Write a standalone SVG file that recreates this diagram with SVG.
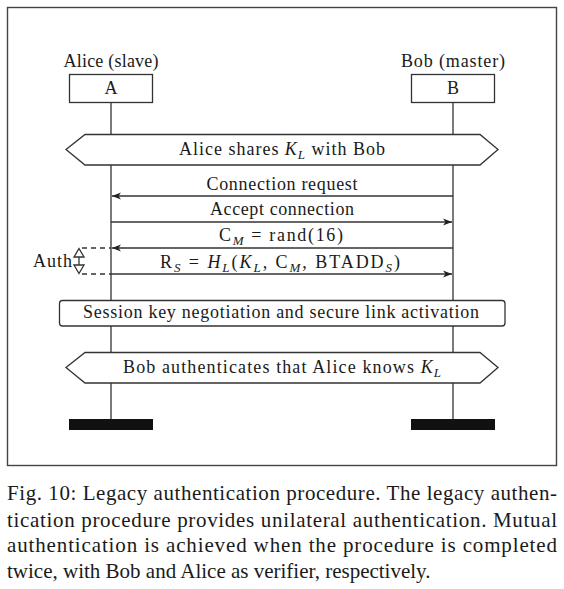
<svg xmlns="http://www.w3.org/2000/svg" width="564" height="589" viewBox="0 0 564 589">
<style>
text{font-family:"Liberation Serif","DejaVu Serif",serif;fill:#1a1a1a}
.d{font-size:18px;text-anchor:middle}
.c{font-size:21px}
.ln{stroke:#333;stroke-width:1.3;fill:none}
.box{stroke:#333;stroke-width:1.3;fill:#fff}
.i{font-style:italic}
.s{font-size:13px}
</style>
<defs>
<marker id="ah" markerWidth="10" markerHeight="8" refX="9" refY="4" orient="auto" markerUnits="userSpaceOnUse">
<path d="M0,0.5 L9,4 L0,7.5 L2.5,4 Z" fill="#222"/>
</marker>
</defs>
<rect x="7.5" y="7.5" width="549" height="458" fill="#fff" stroke="#444" stroke-width="1.4"/>
<g id="lifelines">
<line class="ln" x1="111" y1="103" x2="111" y2="420"/>
<line class="ln" x1="453" y1="103" x2="453" y2="420"/>
</g>
<g id="alice">
<text class="d" x="111" y="67" textLength="95">Alice (slave)</text>
<rect class="box" x="69.5" y="74.5" width="83" height="28"/>
<text class="d" x="111" y="94">A</text>
<rect x="69" y="419" width="84" height="11" fill="#111"/>
</g>
<g id="bob">
<text class="d" x="453" y="67" textLength="104">Bob (master)</text>
<rect class="box" x="411.5" y="74.5" width="83" height="28"/>
<text class="d" x="453" y="94">B</text>
<rect x="411" y="419" width="84" height="11" fill="#111"/>
</g>
<g id="shares">
<path class="box" d="M66,149.5 L85,134.5 L480,134.5 L498,149.5 L480,165 L85,165 Z"/>
<text class="d" x="282" y="155" textLength="206">Alice shares <tspan class="i">K</tspan><tspan class="i s" dy="4">L</tspan><tspan dy="-4"> with Bob</tspan></text>
</g>
<g id="connectors">
<line class="ln" x1="453" y1="196" x2="112" y2="196" marker-end="url(#ah)"/>
<line class="ln" x1="111" y1="222" x2="452" y2="222" marker-end="url(#ah)"/>
<line class="ln" x1="453" y1="248" x2="112" y2="248" marker-end="url(#ah)"/>
<line class="ln" x1="111" y1="274" x2="452" y2="274" marker-end="url(#ah)"/>
<line class="ln" x1="82" y1="248" x2="111" y2="248" stroke-dasharray="5,4"/>
<line class="ln" x1="82" y1="274" x2="111" y2="274" stroke-dasharray="5,4"/>
<line class="ln" x1="79" y1="257" x2="79" y2="265"/>
<path class="ln" d="M79,248.5 L84,257 L74,257 Z"/>
<path class="ln" d="M79,273.5 L84,265 L74,265 Z"/>
</g>
<g id="labels">
<text class="d" x="282" y="190" textLength="151">Connection request</text>
<text class="d" x="282" y="215" textLength="144">Accept connection</text>
<text class="d" x="281" y="241" textLength="124">C<tspan class="i s" dy="4">M</tspan><tspan dy="-4"> = rand(16)</tspan></text>
<text class="d" x="280" y="268" textLength="240">R<tspan class="i s" dy="4">S</tspan><tspan dy="-4"> = </tspan><tspan class="i">H</tspan><tspan class="i s" dy="4">L</tspan><tspan dy="-4">(</tspan><tspan class="i">K</tspan><tspan class="i s" dy="4">L</tspan><tspan dy="-4">, C</tspan><tspan class="i s" dy="4">M</tspan><tspan dy="-4">, BTADD</tspan><tspan class="i s" dy="4">S</tspan><tspan dy="-4">)</tspan></text>
<text class="d" x="52.5" y="267" textLength="39">Auth</text>
</g>
<g id="session">
<rect class="box" x="59.5" y="300.5" width="445.5" height="25.5" rx="3"/>
<text class="d" x="281" y="318" textLength="396">Session key negotiation and secure link activation</text>
</g>
<g id="authenticates">
<path class="box" d="M66,367.5 L85,352.5 L480,352.5 L498,367.5 L480,383 L85,383 Z"/>
<text class="d" x="282" y="373" textLength="318">Bob authenticates that Alice knows <tspan class="i">K</tspan><tspan class="i s" dy="4">L</tspan></text>
</g>
<g id="caption">
<text class="c" x="7" y="500" textLength="550" lengthAdjust="spacing">Fig. 10: Legacy authentication procedure. The legacy authen-</text>
<text class="c" x="7" y="527" textLength="550" lengthAdjust="spacing">tication procedure provides unilateral authentication. Mutual</text>
<text class="c" x="7" y="552" textLength="550" lengthAdjust="spacing">authentication is achieved when the procedure is completed</text>
<text class="c" x="7" y="578">twice, with Bob and Alice as verifier, respectively.</text>
</g>
</svg>
